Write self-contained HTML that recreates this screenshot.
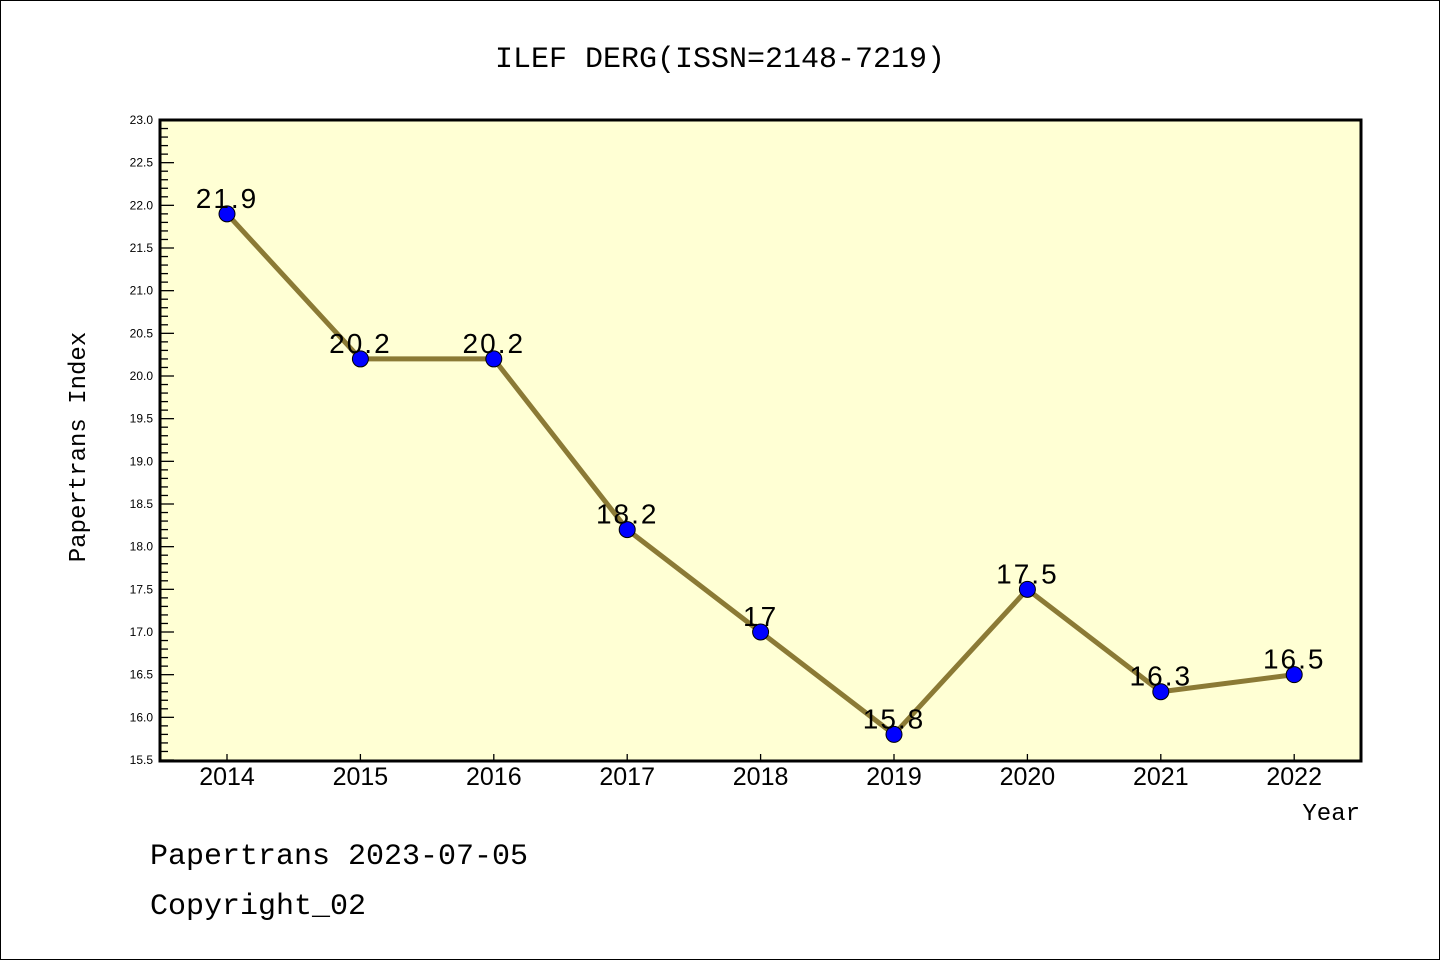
<!DOCTYPE html>
<html><head><meta charset="utf-8"><style>
body{margin:0;background:#fff}
svg{display:block}
</style></head><body>
<svg width="1440" height="960" xmlns="http://www.w3.org/2000/svg">
<rect x="0.5" y="0.5" width="1439" height="959" fill="#fff" stroke="#000"/>
<text x="720" y="67" text-anchor="middle" font-family="'Liberation Mono','WenQuanYi Zen Hei',monospace" font-size="30">ILEF DERG(ISSN=2148-7219)</text>
<rect x="160" y="120" width="1201" height="641" fill="#ffffd4"/>
<g id="axes"></g>
<g id="series"></g>
<rect x="160" y="120" width="1201" height="641" fill="none" stroke="#000" stroke-width="3"/>
<text transform="translate(85,447) rotate(-90)" text-anchor="middle" font-family="'Liberation Mono',monospace" font-size="24">Papertrans Index</text>
<text x="1360" y="820" text-anchor="end" font-family="'Liberation Mono',monospace" font-size="24">Year</text>
<text x="150" y="864" font-family="'Liberation Mono',monospace" font-size="30">Papertrans 2023-07-05</text>
<text x="150" y="914" font-family="'Liberation Mono',monospace" font-size="30">Copyright_02</text>
</svg>
<script>
const years=[2014,2015,2016,2017,2018,2019,2020,2021,2022];
const values=[21.9,20.2,20.2,18.2,17,15.8,17.5,16.3,16.5];
const yTicks=["15.5","16.0","16.5","17.0","17.5","18.0","18.5","19.0","19.5","20.0","20.5","21.0","21.5","22.0","22.5","23.0"];
const NS="http://www.w3.org/2000/svg";
const x=v=>227+(v-2014)*133.4;
const y=v=>760-(v-15.5)/7.5*640;
function mk(t,a,p){const e=document.createElementNS(NS,t);for(const k in a)e.setAttribute(k,a[k]);p.appendChild(e);return e;}
const ax=document.getElementById('axes');
for(let i=0;i<=75;i++){const v=15.5+i*0.1;const major=i%5===0;
 const l=mk('line',{x1:160,x2:160+(major?14:8),y1:y(v),y2:y(v),stroke:'#000','stroke-width':1.3},ax);
 
 }
yTicks.forEach(s=>{const t=mk('text',{x:153,y:y(+s)+4,'text-anchor':'end','font-family':'Liberation Sans,sans-serif','font-size':12},ax);t.textContent=s;
 
 });
years.forEach(yr=>{const l=mk('line',{x1:x(yr),x2:x(yr),y1:761,y2:754,stroke:'#000','stroke-width':1.3},ax);
 
 
 const t=mk('text',{x:x(yr),y:785,'text-anchor':'middle','font-family':'Liberation Sans,sans-serif','font-size':25},ax);t.textContent=yr;
 
 });
const se=document.getElementById('series');
const line=mk('polyline',{points:years.map((yr,i)=>x(yr)+','+y(values[i])).join(' '),fill:'none',stroke:'#8b7a35','stroke-width':5},se);


years.forEach((yr,i)=>{const c=mk('circle',{cx:x(yr),cy:y(values[i]),r:8,fill:'#0000ff',stroke:'#000','stroke-width':1},se);
 
 
 const t=mk('text',{x:x(yr),y:y(values[i])-6,'text-anchor':'middle','font-family':'Liberation Sans,sans-serif','font-size':28,'letter-spacing':2},se);t.textContent=String(values[i]);
 
 });
</script>
</body></html>
